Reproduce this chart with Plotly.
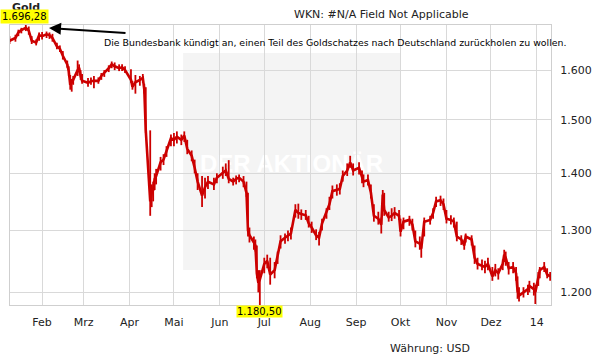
import math
import plotly.graph_objects as go

dates = [
    "2013-01-10", "2013-01-14", "2013-01-16", "2013-01-18", "2013-01-21", "2013-01-23", "2013-01-25",
    "2013-01-28", "2013-01-30", "2013-02-01", "2013-02-04", "2013-02-06", "2013-02-08", "2013-02-11",
    "2013-02-13", "2013-02-15", "2013-02-18", "2013-02-19", "2013-02-20", "2013-02-21", "2013-02-22",
    "2013-02-25", "2013-02-26", "2013-02-27", "2013-02-28", "2013-03-04", "2013-03-06", "2013-03-08",
    "2013-03-11", "2013-03-13", "2013-03-15", "2013-03-18", "2013-03-20", "2013-03-22", "2013-03-25",
    "2013-03-27", "2013-03-29", "2013-04-02", "2013-04-03", "2013-04-05", "2013-04-08", "2013-04-10",
    "2013-04-11", "2013-04-12", "2013-04-15", "2013-04-16", "2013-04-17", "2013-04-18", "2013-04-19",
    "2013-04-22", "2013-04-24", "2013-04-26", "2013-04-29", "2013-05-01", "2013-05-03", "2013-05-06",
    "2013-05-08", "2013-05-10", "2013-05-13", "2013-05-15", "2013-05-17", "2013-05-20", "2013-05-22",
    "2013-05-24", "2013-05-28", "2013-05-30", "2013-06-03", "2013-06-05", "2013-06-07", "2013-06-10",
    "2013-06-12", "2013-06-14", "2013-06-17", "2013-06-19", "2013-06-20", "2013-06-21", "2013-06-24",
    "2013-06-25", "2013-06-26", "2013-06-27", "2013-06-28", "2013-07-01", "2013-07-03", "2013-07-05",
    "2013-07-08", "2013-07-10", "2013-07-12", "2013-07-15", "2013-07-17", "2013-07-19", "2013-07-22",
    "2013-07-24", "2013-07-26", "2013-07-29", "2013-07-31", "2013-08-02", "2013-08-05", "2013-08-07",
    "2013-08-09", "2013-08-12", "2013-08-14", "2013-08-16", "2013-08-19", "2013-08-21", "2013-08-23",
    "2013-08-26", "2013-08-28", "2013-08-30", "2013-09-03", "2013-09-05", "2013-09-06", "2013-09-09",
    "2013-09-11", "2013-09-13", "2013-09-16", "2013-09-18", "2013-09-19", "2013-09-20", "2013-09-23",
    "2013-09-25", "2013-09-27", "2013-09-30", "2013-10-01", "2013-10-03", "2013-10-07", "2013-10-09",
    "2013-10-11", "2013-10-14", "2013-10-15", "2013-10-17", "2013-10-21", "2013-10-23", "2013-10-25",
    "2013-10-28", "2013-10-30", "2013-11-01", "2013-11-04", "2013-11-06", "2013-11-08", "2013-11-11",
    "2013-11-13", "2013-11-14", "2013-11-18", "2013-11-20", "2013-11-22", "2013-11-25", "2013-11-27",
    "2013-11-29", "2013-12-02", "2013-12-04", "2013-12-06", "2013-12-09", "2013-12-10", "2013-12-11",
    "2013-12-13", "2013-12-16", "2013-12-18", "2013-12-19", "2013-12-20", "2013-12-23", "2013-12-26",
    "2013-12-27", "2013-12-30", "2013-12-31", "2014-01-02", "2014-01-03", "2014-01-06", "2014-01-08",
    "2014-01-10",
]

close = [
    1662, 1668, 1680, 1685, 1690, 1684, 1662,
    1658, 1674, 1672, 1676, 1674, 1668, 1650,
    1645, 1630, 1612, 1598, 1570, 1575, 1580,
    1600, 1605, 1588, 1578, 1574, 1577, 1578,
    1578, 1588, 1594, 1604, 1612, 1608, 1604,
    1606, 1600, 1580, 1566, 1575, 1580, 1584,
    1560, 1480, 1350, 1365, 1370, 1390, 1395,
    1420, 1425, 1440, 1465, 1462, 1468, 1462,
    1470, 1445, 1432, 1410, 1385, 1360, 1375,
    1385, 1380, 1392, 1400, 1405, 1390, 1385,
    1390, 1392, 1385, 1365, 1300, 1292, 1280,
    1275, 1230, 1215, 1220, 1245, 1250, 1228,
    1235, 1258, 1282, 1288, 1292, 1295, 1335,
    1330, 1328, 1326, 1312, 1305, 1292, 1288,
    1312, 1330, 1345, 1368, 1370, 1372, 1395,
    1405, 1420, 1405, 1410, 1392, 1385, 1388,
    1365, 1325, 1320, 1310, 1362, 1335, 1322,
    1325, 1330, 1325, 1298, 1315, 1318, 1310,
    1282, 1278, 1270, 1315, 1318, 1330, 1350,
    1352, 1345, 1320, 1318, 1315, 1290, 1285,
    1275, 1290, 1285, 1255, 1245, 1242, 1240,
    1245, 1225, 1235, 1230, 1245, 1260, 1255,
    1238, 1240, 1230, 1202, 1195, 1200, 1205,
    1210, 1205, 1200, 1225, 1235, 1240, 1228,
    1225,
]

high = [
    1672, 1675, 1686, 1690, 1696.28, 1693, 1672,
    1665, 1680, 1681, 1682, 1680, 1677, 1658,
    1652, 1640, 1620, 1608, 1590, 1582, 1588,
    1620, 1612, 1600, 1592, 1584, 1585, 1588,
    1585, 1594, 1600, 1610, 1618, 1616, 1612,
    1612, 1608, 1602, 1578, 1590, 1588, 1592,
    1572, 1565, 1480, 1380, 1385, 1400, 1408,
    1430, 1435, 1450, 1472, 1475, 1478, 1472,
    1478, 1462, 1442, 1425, 1400, 1395, 1392,
    1395, 1392, 1400, 1412, 1418, 1424, 1392,
    1396, 1398, 1395, 1385, 1365, 1305, 1290,
    1285, 1275, 1235, 1235, 1255, 1260, 1255,
    1248, 1265, 1292, 1295, 1300, 1305, 1345,
    1346, 1336, 1335, 1325, 1315, 1302, 1298,
    1320, 1338, 1358, 1378, 1380, 1382, 1405,
    1418, 1432, 1418, 1420, 1405, 1398, 1398,
    1380, 1345, 1332, 1322, 1370, 1365, 1332,
    1338, 1340, 1335, 1320, 1322, 1325, 1320,
    1300, 1290, 1282, 1322, 1325, 1338, 1358,
    1360, 1355, 1335, 1326, 1322, 1315, 1292,
    1285, 1295, 1292, 1275, 1255, 1252, 1250,
    1255, 1240, 1245, 1238, 1252, 1268, 1265,
    1248, 1248, 1240, 1225, 1208, 1208, 1212,
    1218, 1215, 1212, 1232, 1240, 1248, 1238,
    1232,
]

low = [
    1655, 1660, 1672, 1678, 1683, 1675, 1655,
    1652, 1662, 1665, 1668, 1666, 1660, 1644,
    1638, 1622, 1605, 1588, 1560, 1556, 1570,
    1588, 1595, 1580, 1572, 1566, 1570, 1563,
    1572, 1580, 1586, 1596, 1604, 1600, 1598,
    1598, 1594, 1574, 1560, 1552, 1568, 1574,
    1552, 1475, 1325, 1340, 1350, 1370, 1380,
    1405, 1415, 1430, 1450, 1450, 1455, 1452,
    1458, 1435, 1422, 1400, 1370, 1340, 1355,
    1372, 1370, 1382, 1390, 1395, 1382, 1378,
    1380, 1384, 1375, 1358, 1290, 1280, 1268,
    1265, 1222, 1200, 1180.5, 1230, 1238, 1212,
    1222, 1245, 1270, 1278, 1282, 1285, 1322,
    1320, 1318, 1318, 1305, 1296, 1284, 1275,
    1300, 1320, 1335, 1355, 1360, 1362, 1385,
    1395, 1410, 1396, 1398, 1382, 1375, 1378,
    1355, 1315, 1310, 1295, 1340, 1325, 1315,
    1316, 1320, 1318, 1290, 1302, 1308, 1300,
    1272, 1268, 1255, 1290, 1310, 1320, 1340,
    1342, 1335, 1312, 1310, 1305, 1282, 1276,
    1268, 1280, 1275, 1245, 1236, 1235, 1230,
    1235, 1218, 1225, 1220, 1235, 1248, 1242,
    1228, 1230, 1218, 1190, 1186, 1192, 1196,
    1200, 1195, 1182, 1210, 1222, 1232, 1222,
    1218,
]

month_ticks = ["2013-02-01", "2013-03-01", "2013-04-01", "2013-05-01", "2013-06-01", "2013-07-01",
               "2013-08-01", "2013-09-01", "2013-10-01", "2013-11-01", "2013-12-01", "2014-01-01"]
month_labels = ["Feb", "Mrz", "Apr", "Mai", "Jun", "Jul", "Aug", "Sep", "Okt", "Nov", "Dez", "14"]

price_ticks = [1200, 1300, 1400, 1500, 1600]
price_labels = ["1.200", "1.300", "1.400", "1.500", "1.600"]

max_label = "1.696,28"
min_label = "1.180,50"
min_date = "2013-06-28"
note_text = "Die Bundesbank kündigt an, einen Teil des Goldschatzes nach Deutschland zurückholen zu wollen."

RED = "#cc0000"
FONT = "DejaVu Sans"

err_plus = [h - c for h, c in zip(high, close)]
err_minus = [c - l for c, l in zip(close, low)]

fig = go.Figure()
fig.add_trace(go.Scatter(
    x=dates, y=close, mode="lines",
    line=dict(color=RED, width=2.6),
    error_y=dict(type="data", symmetric=False, array=err_plus, arrayminus=err_minus,
                 color=RED, thickness=1.8, width=0),
    hoverinfo="skip", showlegend=False,
))

ymin = min(low)
ymax = max(high)

fig.update_layout(
    width=611, height=364,
    margin=dict(l=10, r=60, t=25, b=59),
    paper_bgcolor="white", plot_bgcolor="white",
    font=dict(family=FONT, size=11, color="#222222"),
    showlegend=False,
    xaxis=dict(
        type="date",
        range=["2013-01-10 08:00", "2014-01-10 14:00"],
        tickvals=month_ticks, ticktext=month_labels,
        showgrid=True, gridcolor="#d9d9d9", gridwidth=1,
        showline=True, mirror=True, linecolor="#cfcfcf", linewidth=1,
        ticks="", ticklabelstandoff=7, zeroline=False,
        tickfont=dict(size=11, color="#222222"),
    ),
    yaxis=dict(
        type="log",
        range=[math.log10(ymin), math.log10(ymax)],
        side="right",
        tickvals=price_ticks, ticktext=price_labels,
        showgrid=True, gridcolor="#d9d9d9", gridwidth=1,
        showline=True, mirror=True, linecolor="#cfcfcf", linewidth=1,
        ticks="", ticklabelstandoff=6, zeroline=False,
        tickfont=dict(size=11, color="#222222"),
    ),
    shapes=[dict(type="rect", xref="paper", yref="paper",
                 x0=0.320, x1=0.721, y0=0.125, y1=0.90,
                 fillcolor="#f4f4f4", line=dict(width=0), layer="below",
                 label=dict(text="<b>DER AKTIONÄR</b>", textposition="middle center",
                            font=dict(family="Liberation Sans", size=24, color="#ffffff"),
                            yanchor="middle"))],
)

annotations = [
    dict(text="<b>Gold</b>", xref="paper", yref="paper", x=0.0, y=1.062,
         showarrow=False, font=dict(family=FONT, size=11, color="#222222"),
         xanchor="left", yanchor="middle"),
    dict(text="WKN: #N/A Field Not Applicable", xref="paper", yref="paper", x=0.686, y=1.039,
         showarrow=False, font=dict(family=FONT, size=11, color="#222222"),
         xanchor="center", yanchor="middle"),
    dict(text=max_label, xref="paper", yref="paper", x=-0.0185, y=1.029,
         showarrow=False, bgcolor="#ffff00", borderpad=1,
         font=dict(family=FONT, size=10, color="#000000"),
         xanchor="left", yanchor="middle"),
    dict(text="", xref="paper", yref="paper", x=0.0721, y=0.989,
         ax=78, ay=5, showarrow=True, arrowhead=2, arrowsize=1.2, arrowwidth=2,
         arrowcolor="#000000"),
    dict(text=note_text, xref="paper", yref="paper", x=0.170, y=0.936,
         showarrow=False, font=dict(family=FONT, size=9.4, color="#000000"),
         xanchor="left", yanchor="middle"),
    dict(text=min_label, xref="x", yref="paper", x=min_date, y=0.0,
         showarrow=False, bgcolor="#ffff00", borderpad=0,
         font=dict(family=FONT, size=10, color="#000000"),
         xanchor="center", yanchor="top"),
    dict(text="Währung: USD", xref="paper", yref="paper", x=0.699, y=-0.154,
         showarrow=False, font=dict(family=FONT, size=11, color="#222222"),
         xanchor="left", yanchor="middle"),
]
fig.update_layout(annotations=annotations)

fig.write_html("out.html", config={"displayModeBar": False},
               post_script="document.body.style.margin='0';")
